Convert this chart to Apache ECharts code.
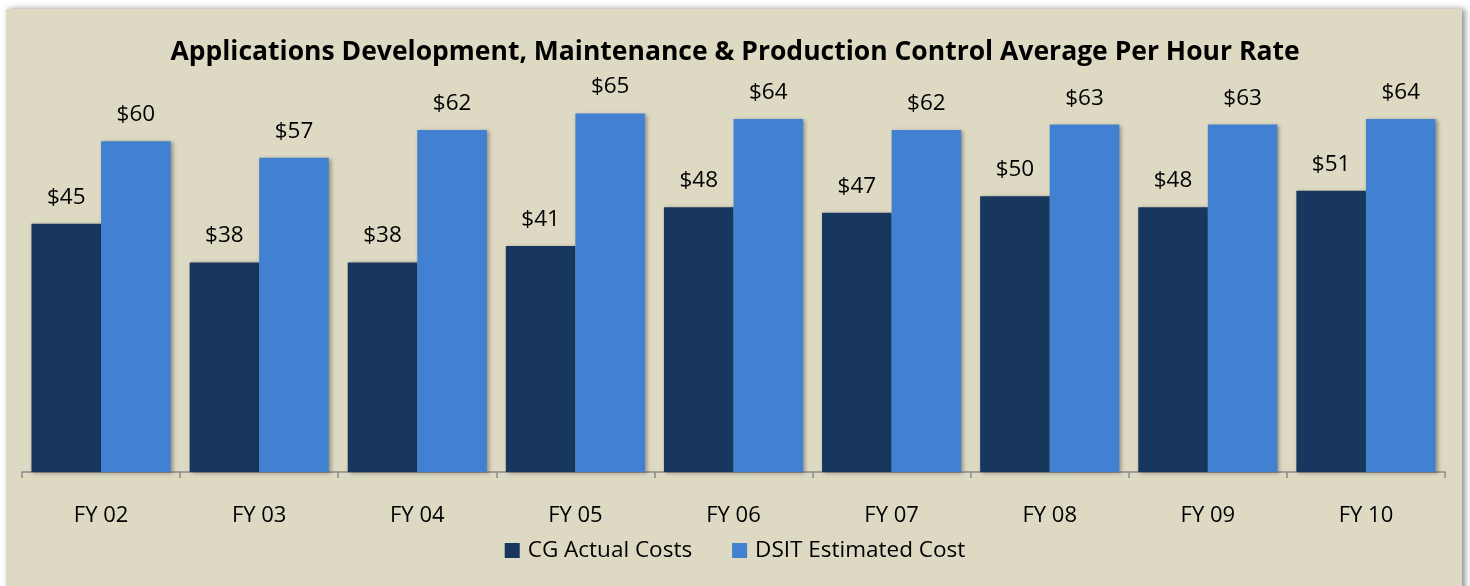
<!DOCTYPE html>
<html><head><meta charset="utf-8">
<script src="https://cdn.jsdelivr.net/npm/echarts@6/dist/echarts.min.js"></script>
<style>html,body{margin:0;padding:0;background:#fff}#c{width:1470px;height:586px}</style>
</head><body><div id="c"></div>
<script>
const titleText = 'Applications Development, Maintenance & Production Control Average Per Hour Rate';
const categories = ['FY 02','FY 03','FY 04','FY 05','FY 06','FY 07','FY 08','FY 09','FY 10'];
const seriesNames = ['CG Actual Costs','DSIT Estimated Cost'];
const cgActual = [45,38,38,41,48,47,50,48,51];
const dsitEstimated = [60,57,62,65,64,62,63,63,64];

const font = 'Open Sans';
const chart = echarts.init(document.getElementById('c'), null, {renderer:'canvas'});
const barShadow = {shadowColor:'rgba(0,0,0,0.35)', shadowBlur:4, shadowOffsetX:2, shadowOffsetY:1};
const labelCfg = {show:true, position:'top', distance:15, color:'#000', fontFamily:font, fontSize:22.5,
  formatter: p => '$' + Math.round(p.value)};
chart.setOption({
  backgroundColor:'transparent',
  animation:false,
  graphic:[{type:'rect', z:-10, shape:{x:6,y:9,width:1456,height:590},
    style:{fill:'#DDD9C3', shadowColor:'rgba(0,0,0,0.45)', shadowBlur:6, shadowOffsetX:3, shadowOffsetY:0}}],
  title:{text:titleText, left:'center', top:34,
    textStyle:{fontFamily:font, fontWeight:'bold', fontSize:26.5, color:'#000'}},
  legend:{top:534, left:'center', itemWidth:15, itemHeight:15, itemGap:40, icon:'rect',
    textStyle:{fontFamily:font, fontSize:22.5, color:'#000', padding:[0,0,0,3]}},
  grid:{left:22, right:25, top:86, bottom:114},
  xAxis:{type:'category', data:categories,
    axisLine:{lineStyle:{color:'#8a8a8a', width:1.5}},
    axisTick:{show:true, length:6, lineStyle:{color:'#8a8a8a', width:1.5}},
    axisLabel:{fontFamily:font, fontSize:22, color:'#000', margin:33}},
  yAxis:{type:'value', min:0, max:70, show:false, splitLine:{show:false}},
  series:[
    {name:seriesNames[0], type:'bar', data:cgActual, barGap:'0%', barCategoryGap:'12%',
     itemStyle:Object.assign({color:'#17375E'}, barShadow), label:labelCfg},
    {name:seriesNames[1], type:'bar', data:dsitEstimated, barGap:'0%', barCategoryGap:'12%',
     itemStyle:Object.assign({color:'#4281D1'}, barShadow), label:labelCfg}
  ]
});
</script></body></html>
